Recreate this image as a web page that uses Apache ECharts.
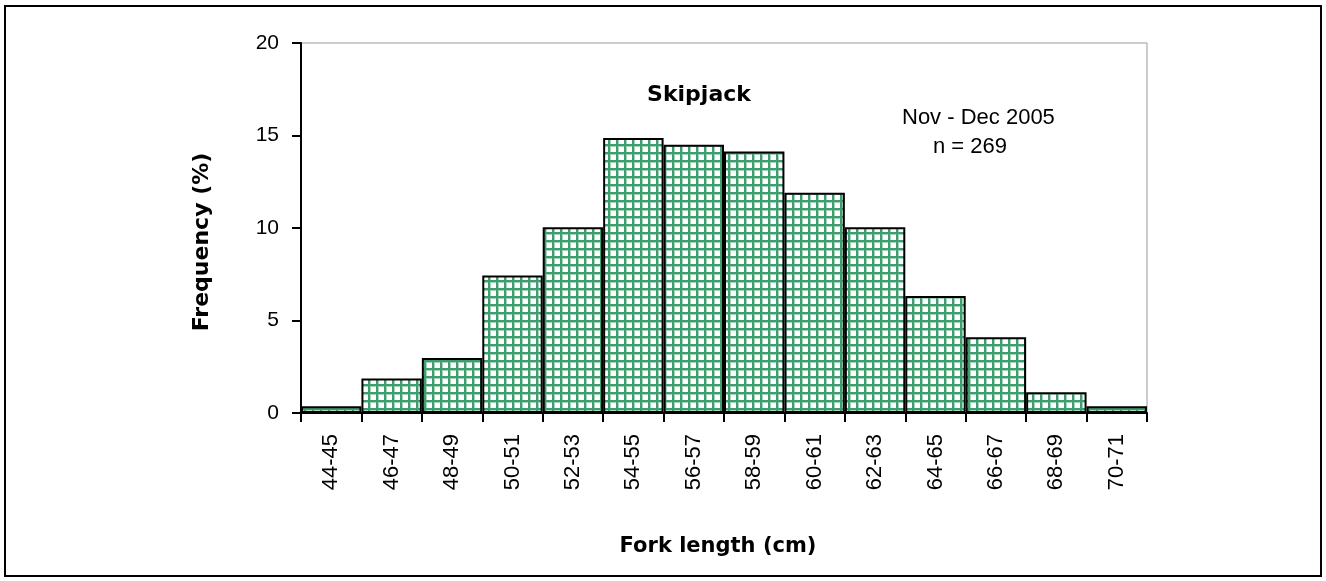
<!DOCTYPE html>
<html><head><meta charset="utf-8">
<script src="https://cdn.jsdelivr.net/npm/echarts@6/dist/echarts.min.js"></script>
<style>html,body{margin:0;padding:0;background:#fff}#c{width:1326px;height:581px}</style>
</head><body><div id="c"></div>
<script>
var categories = ['44-45','46-47','48-49','50-51','52-53','54-55','56-57','58-59','60-61','62-63','64-65','66-67','68-69','70-71'];
var frequency = [0.37, 1.86, 2.97, 7.43, 10.04, 14.87, 14.50, 14.13, 11.90, 10.04, 6.32, 4.09, 1.12, 0.37];
var yTicks = [0, 5, 10, 15, 20];

var P = 8;
var pc = document.createElement('canvas');
pc.width = P; pc.height = P;
var ctx = pc.getContext('2d');
ctx.fillStyle = '#ffffff'; ctx.fillRect(0,0,P,P);
ctx.fillStyle = '#a6d4bb';
ctx.fillRect(0,2,P,1);
ctx.fillRect(2,0,1,P);
ctx.fillStyle = '#3f9e6f';
ctx.fillRect(0,0,P,2);
ctx.fillRect(0,0,2,P);

var chart = echarts.init(document.getElementById('c'), null, {renderer:'canvas'});
var tickFont = 'Liberation Sans';
chart.setOption({
  animation: false,
  grid: {left: 301, top: 43, right: 179, bottom: 168, show: true, borderColor: '#9a9a9a', borderWidth: 1},
  xAxis: {
    type: 'category', data: categories,
    axisLine: {lineStyle: {color: '#000', width: 2}},
    axisTick: {show: true, length: 9, lineStyle: {color: '#000', width: 2}},
    axisLabel: {rotate: 90, fontFamily: tickFont, fontSize: 22, color: '#000', margin: 21}
  },
  yAxis: {
    type: 'value', min: 0, max: 20, interval: 5,
    axisLine: {show: true, lineStyle: {color: '#000', width: 2}},
    axisTick: {show: true, length: 9, lineStyle: {color: '#000', width: 2}},
    axisLabel: {fontFamily: tickFont, fontSize: 21, color: '#000', margin: 22,
      formatter: function(v){ return yTicks.indexOf(v) >= 0 ? String(v) : ''; }},
    splitLine: {show: false}
  },
  series: [{
    type: 'bar', data: frequency, barCategoryGap: '0%',
    itemStyle: {color: {image: pc, repeat: 'repeat'}, borderColor: '#000', borderWidth: 2}
  }],
  graphic: [
    {type: 'rect', shape: {x: 5, y: 6, width: 1316, height: 570}, silent: true,
     style: {fill: 'none', stroke: '#000', lineWidth: 2}},
    {type: 'text', x: 699, y: 95, silent: true,
     style: {text: 'Skipjack', font: 'bold 22px "DejaVu Sans"', fill: '#000', textAlign: 'center', textVerticalAlign: 'middle'}},
    {type: 'text', x: 902, y: 118, silent: true,
     style: {text: 'Nov - Dec 2005', font: '22px "Liberation Sans"', fill: '#000', textAlign: 'left', textVerticalAlign: 'middle'}},
    {type: 'text', x: 933, y: 147, silent: true,
     style: {text: 'n = 269', font: '22px "Liberation Sans"', fill: '#000', textAlign: 'left', textVerticalAlign: 'middle'}},
    {type: 'text', x: 718, y: 547, silent: true,
     style: {text: 'Fork length (cm)', font: 'bold 21px "DejaVu Sans"', fill: '#000', textAlign: 'center', textVerticalAlign: 'middle'}},
    {type: 'text', x: 202, y: 242, rotation: Math.PI / 2, silent: true,
     style: {text: 'Frequency (%)', font: 'bold 22px "DejaVu Sans"', fill: '#000', textAlign: 'center', textVerticalAlign: 'middle'}}
  ]
});
</script></body></html>
